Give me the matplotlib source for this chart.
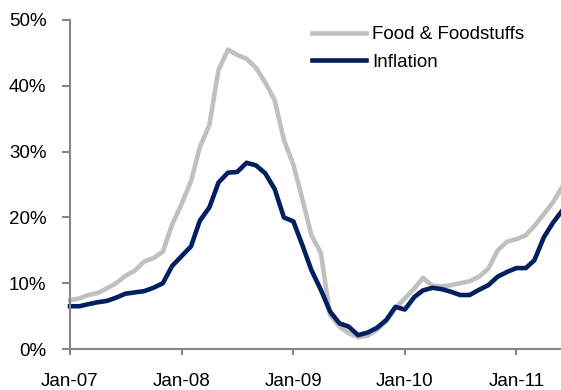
import numpy as np
import pandas as pd
from matplotlib import pyplot as plt
import matplotlib.dates as mdates
from matplotlib.ticker import FuncFormatter

plt.rcParams['font.family'] = ['Liberation Sans', 'DejaVu Sans']

# monthly, Jan-07 .. Jun-11
months = pd.date_range('2007-01-01', periods=54, freq='MS')

food = [7.4, 7.7, 8.2, 8.5, 9.2, 10.0, 11.1, 11.9, 13.3, 13.8, 14.8, 18.9,
        22.0, 25.5, 30.7, 34.0, 42.4, 45.5, 44.7, 44.1, 42.7, 40.5, 37.8, 31.8,
        28.0, 22.5, 17.3, 14.6, 5.2, 3.4, 2.4, 1.8, 2.0, 2.9, 4.2, 6.2,
        7.7, 9.2, 10.8, 9.6, 9.5, 9.7, 10.0, 10.3, 11.0, 12.2, 15.0, 16.3,
        16.7, 17.3, 18.7, 20.5, 22.3, 24.7]

inflation = [6.5, 6.5, 6.8, 7.1, 7.3, 7.8, 8.4, 8.6, 8.8, 9.3, 10.0, 12.6,
             14.1, 15.6, 19.5, 21.5, 25.3, 26.8, 26.9, 28.3, 27.9, 26.7, 24.3, 20.0,
             19.4, 15.6, 12.0, 9.0, 5.7, 3.9, 3.4, 2.1, 2.5, 3.2, 4.4, 6.4,
             6.0, 7.9, 8.9, 9.3, 9.1, 8.7, 8.2, 8.2, 9.0, 9.7, 11.0, 11.7,
             12.3, 12.3, 13.5, 17.0, 19.2, 21.1]

fig = plt.figure(figsize=(5.61, 3.90), dpi=100)
ax = fig.add_axes((70 / 561, 1 - 349 / 390, 1 - 70 / 561, (349 - 20) / 390))

ax.plot(months, food, color='#C0C0C0', lw=3.3, label='Food & Foodstuffs',
        solid_joinstyle='round', clip_on=False)
ax.plot(months, inflation, color='#002060', lw=3.3, label='Inflation',
        solid_joinstyle='round', clip_on=False)

ax.set_ylim(0, 50)
ax.set_yticks(np.arange(0, 51, 10))
ax.yaxis.set_major_formatter(FuncFormatter(lambda v, p: f'{v:.0f}%'))
ax.set_xlim(pd.Timestamp('2007-01-01'), pd.Timestamp('2011-05-27'))
ax.set_xticks(pd.date_range('2007-01-01', '2011-01-01', freq='YS'))
ax.xaxis.set_major_formatter(mdates.DateFormatter('%b-%y'))

for s in ('top', 'right'):
    ax.spines[s].set_visible(False)
for s in ('left', 'bottom'):
    ax.spines[s].set_color('#868686')
    ax.spines[s].set_linewidth(1.5)
ax.tick_params(axis='y', direction='out', length=6, width=1.5, color='#868686',
               labelsize=13.5, pad=11, labelcolor='black')
ax.tick_params(axis='x', direction='out', length=4, width=1.5, color='#868686',
               labelsize=13.5, pad=13, labelcolor='black')

ax.legend(loc='upper left', bbox_to_anchor=(312 / 561, 1 - 26 / 390),
          bbox_transform=fig.transFigure, frameon=False, fontsize=13.5,
          handlelength=2.9, handletextpad=0.3, labelspacing=0.55,
          borderpad=0, borderaxespad=0)

fig.savefig('out.png', dpi=100)
